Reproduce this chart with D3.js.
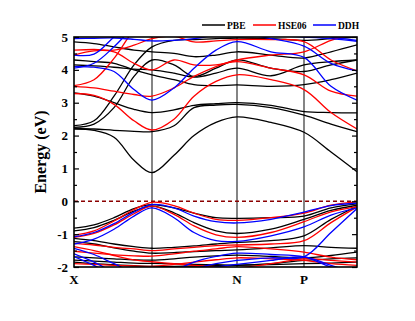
<!DOCTYPE html>
<html>
<head>
<meta charset="utf-8">
<script src="https://cdn.jsdelivr.net/npm/d3@7/dist/d3.min.js"></script>
<style>
  body { margin: 0; background: #fff; }
  text { font-family: "Liberation Serif", "Times New Roman", serif; font-weight: bold; }
</style>
</head>
<body>
<svg id="chart" width="415" height="321"></svg>
<script>
// k-path sample points (X ... G ... N ... P ... end)
var kPts = [0, 0.2, 0.4, 0.6, 0.78, 1.0, 1.2, 1.42, 1.63, 1.97, 2.30, 2.57, 2.83];
var kTicks = [0, 0.78, 1.63, 2.30, 2.83];
var kLabels = ["X", "", "N", "P", ""];
var yTicks = [-2, -1, 0, 1, 2, 3, 4, 5];

// PBE bands (eV)
var pbeBands = [
  [2.20, 2.16, 1.95, 1.25, 0.87, 1.40, 2.00, 2.40, 2.57, 2.40, 2.10, 1.50, 0.90],
  [2.22, 2.20, 2.16, 2.13, 2.12, 2.30, 2.85, 2.93, 2.95, 2.85, 2.62, 2.35, 2.12],
  [3.30, 3.20, 3.00, 2.80, 2.70, 2.78, 2.92, 2.97, 3.00, 2.92, 2.73, 2.70, 2.69],
  [2.25, 2.35, 2.85, 3.80, 4.30, 4.15, 3.80, 4.05, 4.30, 4.05, 3.95, 4.15, 4.30],
  [2.30, 2.45, 3.20, 4.15, 4.70, 4.90, 4.92, 4.95, 4.97, 4.95, 4.90, 4.95, 5.00],
  [4.15, 4.12, 4.08, 4.02, 4.00, 3.90, 3.78, 3.90, 4.05, 3.82, 4.15, 4.25, 4.30],
  [4.85, 4.80, 4.70, 4.60, 4.55, 4.50, 4.40, 4.45, 4.55, 4.45, 4.36, 4.55, 4.76],
  [4.30, 4.25, 4.20, 4.00, 3.85, 3.70, 3.55, 3.52, 3.54, 3.50, 3.55, 3.70, 3.90],
  [-0.82, -0.72, -0.50, -0.22, -0.10, -0.20, -0.36, -0.50, -0.52, -0.50, -0.45, -0.20, -0.08],
  [-0.90, -0.80, -0.58, -0.30, -0.15, -0.35, -0.65, -0.90, -0.98, -0.85, -0.55, -0.28, -0.12],
  [-1.13, -1.20, -1.30, -1.38, -1.43, -1.40, -1.36, -1.30, -1.25, -1.20, -1.05, -0.55, -0.15],
  [-1.23, -1.30, -1.42, -1.52, -1.58, -1.56, -1.53, -1.50, -1.48, -1.42, -1.35, -1.40, -1.43],
  [-1.69, -1.72, -1.75, -1.78, -1.79, -1.75, -1.70, -1.66, -1.64, -1.68, -1.72, -1.65, -1.55],
  [-1.79, -1.82, -1.85, -1.88, -1.89, -1.90, -1.92, -1.93, -1.94, -1.90, -1.80, -1.75, -1.72],
  [-1.85, -1.90, -1.93, -1.96, -1.98, -1.98, -1.97, -1.96, -1.95, -1.93, -1.90, -1.88, -1.85]
];

// HSE06 bands (eV)
var hseBands = [
  [3.28, 3.22, 2.95, 2.45, 2.17, 2.50, 3.20, 3.65, 3.85, 3.70, 3.40, 2.70, 2.20],
  [3.50, 3.45, 3.35, 3.25, 3.20, 3.45, 3.80, 4.10, 4.30, 4.45, 4.55, 4.90, 5.10],
  [3.52, 3.70, 4.35, 5.20, 5.60, 5.50, 5.40, 5.30, 5.20, 5.20, 5.20, 5.20, 5.20],
  [4.60, 4.62, 4.60, 4.75, 4.95, 5.02, 4.85, 4.88, 4.92, 4.92, 4.86, 4.30, 3.97],
  [4.45, 4.58, 4.55, 4.20, 4.00, 4.30, 4.15, 4.15, 4.25, 4.05, 3.85, 3.35, 3.20],
  [-1.03, -0.90, -0.60, -0.25, -0.03, -0.13, -0.36, -0.55, -0.58, -0.50, -0.36, -0.12, -0.02],
  [-1.10, -0.98, -0.72, -0.38, -0.15, -0.40, -0.75, -1.02, -1.10, -0.95, -0.62, -0.32, -0.16],
  [-1.28, -1.33, -1.40, -1.45, -1.50, -1.45, -1.40, -1.35, -1.33, -1.30, -1.20, -0.65, -0.17],
  [-1.38, -1.50, -1.65, -1.78, -1.84, -1.90, -1.95, -1.99, -2.02, -1.90, -1.75, -1.80, -1.85],
  [-1.52, -1.58, -1.63, -1.66, -1.67, -1.60, -1.52, -1.45, -1.38, -1.45, -1.55, -1.70, -1.78],
  [-1.90, -1.92, -1.95, -1.97, -1.98, -1.92, -1.85, -1.78, -1.72, -1.75, -1.80, -1.90, -1.95]
];

// DDH bands (eV)
var ddhBands = [
  [4.10, 4.08, 3.95, 3.40, 3.08, 3.45, 4.05, 4.60, 4.86, 4.55, 4.38, 3.50, 3.08],
  [4.45, 4.48, 5.00, 5.50, 5.70, 5.60, 5.50, 5.40, 5.30, 5.20, 5.10, 5.00, 4.90],
  [4.95, 4.96, 4.97, 4.93, 4.88, 4.90, 4.95, 5.05, 5.10, 5.05, 5.00, 4.95, 4.87],
  [4.05, 4.20, 4.70, 5.30, 5.60, 5.50, 5.40, 5.30, 5.20, 5.20, 5.20, 5.20, 5.20],
  [5.30, 5.30, 5.30, 5.30, 5.30, 5.25, 5.20, 5.15, 5.10, 4.95, 4.72, 4.20, 3.97],
  [-1.08, -0.95, -0.68, -0.33, -0.10, -0.20, -0.45, -0.62, -0.66, -0.55, -0.33, -0.13, -0.06],
  [-1.30, -1.15, -0.85, -0.45, -0.20, -0.50, -0.95, -1.20, -1.22, -1.05, -0.78, -0.42, -0.20],
  [-1.60, -1.85, -2.15, -2.30, -2.30, -2.20, -2.05, -1.90, -1.80, -1.72, -1.69, -0.95, -0.22],
  [-1.43, -1.62, -1.90, -2.15, -2.20, -2.10, -1.85, -1.68, -1.58, -1.62, -1.69, -2.00, -2.20],
  [-1.68, -1.95, -2.25, -2.40, -2.40, -2.30, -2.15, -2.00, -1.92, -1.80, -1.69, -1.95, -2.20]
];

var series = [
  {name: "PBE", color: "#000000", bands: pbeBands},
  {name: "HSE06", color: "#ff0000", bands: hseBands},
  {name: "DDH", color: "#0000ff", bands: ddhBands}
];

var svg = d3.select("#chart");
// plot box (window.top is read-only, so use other names)
var pL = 74, pR = 357, pT = 37, pB = 267;

var x = d3.scaleLinear().domain([0, 2.83]).range([pL, pR]);
var y = d3.scaleLinear().domain([-2, 5]).range([pB, pT]);

svg.append("clipPath").attr("id", "clip")
  .append("rect").attr("x", pL).attr("y", pT)
  .attr("width", pR - pL).attr("height", pB - pT);

// high-symmetry lines
svg.append("g").selectAll("line")
  .data(kTicks.slice(1, 4))
  .enter().append("line")
  .attr("x1", function(d) { return x(d); })
  .attr("x2", function(d) { return x(d); })
  .attr("y1", pT).attr("y2", pB)
  .attr("stroke", "#333").attr("stroke-width", 1.2);

var line = d3.line()
  .x(function(d, i) { return x(kPts[i]); })
  .y(function(d) { return y(d); })
  .curve(d3.curveCatmullRom.alpha(0.5));

var plot = svg.append("g").attr("clip-path", "url(#clip)");
series.forEach(function(s) {
  plot.selectAll(null)
    .data(s.bands)
    .enter().append("path")
    .attr("d", line)
    .attr("fill", "none")
    .attr("stroke", s.color)
    .attr("stroke-width", 1.3);
});

// fermi level
svg.append("line")
  .attr("x1", pL).attr("x2", pR)
  .attr("y1", y(0)).attr("y2", y(0))
  .attr("stroke", "#8b0000").attr("stroke-width", 1.5)
  .attr("stroke-dasharray", "4,3");

// y axis, ticks inward on both sides
var yAxisL = d3.axisRight(y).tickValues(d3.range(-2, 5.01, 0.5)).tickSize(0).tickFormat("");
var gl = svg.append("g").attr("transform", "translate(" + pL + ",0)").call(yAxisL);
gl.selectAll(".tick line").attr("x2", function(d) { return d % 1 === 0 ? 5 : 3; })
  .attr("stroke", "#000").attr("stroke-width", 1.2);
gl.select(".domain").remove();

var yAxisR = d3.axisLeft(y).tickValues(d3.range(-2, 5.01, 0.5)).tickSize(0).tickFormat("");
var gr = svg.append("g").attr("transform", "translate(" + pR + ",0)").call(yAxisR);
gr.selectAll(".tick line").attr("x2", function(d) { return d % 1 === 0 ? -5 : -3; })
  .attr("stroke", "#000").attr("stroke-width", 1.2);
gr.select(".domain").remove();

// tick labels
svg.append("g").selectAll("text")
  .data(yTicks)
  .enter().append("text")
  .attr("x", pL - 6)
  .attr("y", function(d) { return y(d) + 4.5; })
  .attr("text-anchor", "end")
  .attr("font-size", 13)
  .text(function(d) { return d; });

svg.append("g").selectAll("text")
  .data(kTicks.filter(function(d, i) { return kLabels[i] !== ""; }))
  .enter().append("text")
  .attr("x", function(d) { return x(d); })
  .attr("y", pB + 17)
  .attr("text-anchor", "middle")
  .attr("font-size", 13)
  .text(function(d) { return kLabels[kTicks.indexOf(d)]; });

// frame
svg.append("rect")
  .attr("x", pL).attr("y", pT)
  .attr("width", pR - pL).attr("height", pB - pT)
  .attr("fill", "none").attr("stroke", "#000").attr("stroke-width", 1.6);

// axis title
svg.append("text")
  .attr("transform", "translate(46," + ((pT + pB) / 2) + ") rotate(-90)")
  .attr("text-anchor", "middle")
  .attr("font-size", 16)
  .text("Energy (eV)");

// legend
var legend = svg.append("g");
var legX = [202, 253, 313];
series.forEach(function(s, i) {
  legend.append("line")
    .attr("x1", legX[i]).attr("x2", legX[i] + 23)
    .attr("y1", 25).attr("y2", 25)
    .attr("stroke", s.color).attr("stroke-width", 1.5);
  legend.append("text")
    .attr("x", legX[i] + 25).attr("y", 28.5)
    .attr("font-size", 9.5)
    .text(s.name);
});
</script>
</body>
</html>
